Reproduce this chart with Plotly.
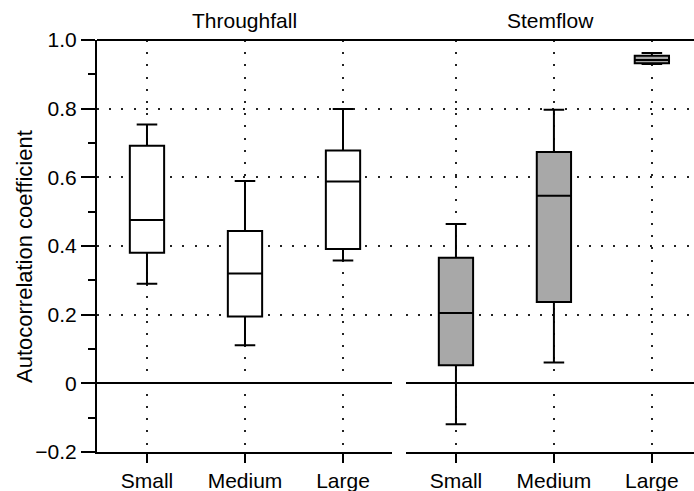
import plotly.graph_objects as go

# Size classes on the category axis
classes = ["Small", "Medium", "Large"]

# Throughfall autocorrelation: box statistics per class
tf_lower = [0.290, 0.111, 0.358]
tf_q1 = [0.380, 0.195, 0.391]
tf_median = [0.476, 0.320, 0.588]
tf_q3 = [0.692, 0.444, 0.678]
tf_upper = [0.754, 0.589, 0.799]

# Stemflow autocorrelation: box statistics per class
sf_lower = [-0.119, 0.061, 0.930]
sf_q1 = [0.053, 0.237, 0.932]
sf_median = [0.205, 0.546, 0.942]
sf_q3 = [0.366, 0.674, 0.954]
sf_upper = [0.464, 0.797, 0.962]

# Y tick labels
y_tickvals = [-0.2, 0, 0.2, 0.4, 0.6, 0.8, 1.0]
y_ticktext = ["\u22120.2", "0", "0.2", "0.4", "0.6", "0.8", "1.0"]

FONT = "Liberation Sans, Arial, Helvetica, sans-serif"
FS = 21
DOT = "2px,10.2px"

fig = go.Figure()

fig.add_trace(go.Box(
    x=classes, q1=tf_q1, median=tf_median, q3=tf_q3,
    lowerfence=tf_lower, upperfence=tf_upper,
    xaxis="x", yaxis="y",
    fillcolor="white", line=dict(color="black", width=2),
    width=0.35, whiskerwidth=0.6, boxpoints=False,
    showlegend=False, hoverinfo="skip",
))

fig.add_trace(go.Box(
    x=classes, q1=sf_q1, median=sf_median, q3=sf_q3,
    lowerfence=sf_lower, upperfence=sf_upper,
    xaxis="x2", yaxis="y2",
    fillcolor="#a8a8a8", line=dict(color="black", width=2),
    width=0.35, whiskerwidth=0.6, boxpoints=False,
    showlegend=False, hoverinfo="skip",
))

W, H = 694, 491
ML, MR, MT, MB = 97, 0, 40, 39
pw = W - ML - MR
ph = H - MT - MB
left_dom = [0, 295 / pw]
right_dom = [309 / pw, 1]

xcommon = dict(
    type="category", categoryorder="array", categoryarray=classes,
    showline=True, linecolor="black", linewidth=2,
    ticks="outside", ticklen=9, tickwidth=2, tickcolor="black",
    showgrid=True, gridcolor="#222", gridwidth=1.5, griddash=DOT,
    zeroline=False, tickfont=dict(family=FONT, size=FS, color="black"),
)

ycommon = dict(
    range=[-0.2, 1.0], tickvals=y_tickvals, ticktext=y_ticktext,
    showgrid=True, gridcolor="#222", gridwidth=1.5, griddash=DOT,
    zeroline=True, zerolinecolor="black", zerolinewidth=2,
    tickfont=dict(family=FONT, size=FS, color="black"),
)

fig.update_layout(
    width=W, height=H,
    margin=dict(l=ML, r=MR, t=MT, b=MB),
    paper_bgcolor="white", plot_bgcolor="white",
    font=dict(family=FONT, size=FS, color="black"),
    xaxis=dict(domain=left_dom, range=[-0.51, 2.5], anchor="y", **xcommon),
    xaxis2=dict(domain=right_dom, range=[-0.51, 2.43], anchor="y2", **xcommon),
    yaxis=dict(
        anchor="x", showline=True, linecolor="black", linewidth=2,
        ticks="outside", ticklen=14, tickwidth=2, tickcolor="black",
        minor=dict(tickvals=[-0.1, 0.1, 0.3, 0.5, 0.7, 0.9], ticks="outside",
                   ticklen=7, tickwidth=2, tickcolor="black", showgrid=False),
        **ycommon,
    ),
    yaxis2=dict(
        anchor="x2", matches="y", showline=False, ticks="",
        showticklabels=False, **ycommon,
    ),
    shapes=[
        dict(type="line", xref="paper", yref="paper", x0=0, x1=1, y0=1, y1=1,
             line=dict(color="black", width=2), layer="above"),
    ],
    annotations=[
        dict(text="Throughfall", xref="x domain", yref="paper", x=0.5, y=1,
             yanchor="bottom", yshift=6, showarrow=False,
             font=dict(family=FONT, size=FS, color="black")),
        dict(text="Stemflow", xref="x2 domain", yref="paper", x=0.5, y=1,
             yanchor="bottom", yshift=6, showarrow=False,
             font=dict(family=FONT, size=FS, color="black")),
        # vertical axis title
        dict(text="Autocorrelation coefficient", xref="paper", yref="paper",
             x=(24 - ML) / pw, y=(H - MB - 257) / ph,
             xanchor="center", yanchor="middle", textangle=-90, showarrow=False,
             font=dict(family=FONT, size=22, color="black")),
    ],
)

fig.write_html("out.html")
